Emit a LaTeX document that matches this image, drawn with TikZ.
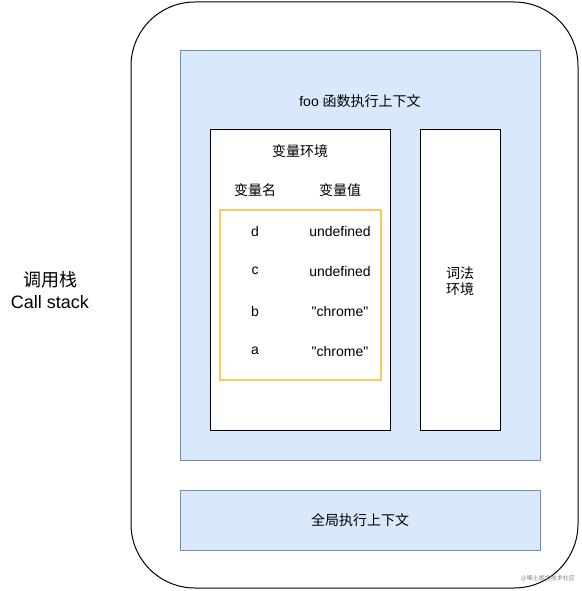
\documentclass[tikz,border=0pt]{standalone}
\usepackage{fontspec}
\setmainfont{Liberation Sans}
\newfontfamily\cjk{Noto Sans CJK SC}
\usepackage{tikz}
\usetikzlibrary{positioning}

\begin{document}
\begin{tikzpicture}[x=0.75pt,y=-0.75pt,
    box/.style={draw,line width=0.75pt,inner sep=0pt},
    ctxbox/.style={draw={rgb,255:red,108;green,142;blue,191},fill={rgb,255:red,218;green,232;blue,252},line width=0.6pt,inner sep=0pt},
    txt/.style={font=\fontsize{10.5}{12}\selectfont,inner sep=0pt,align=center}]
                    \useasboundingbox (0,0) rectangle (581,591);
                    % call stack frame
                    \node[box,rounded corners=48pt,minimum width=335.25pt,minimum height=439.5pt] (stack) at (354.5,295) {};
                    \node[txt,font=\fontsize{13.5}{16}\selectfont] (stacklabel) at (50,290) {{\cjk 调用栈}\\Call stack};
                    % foo context
                    \node[ctxbox,minimum width=270pt,minimum height=307.5pt] (foo) at (360,255) {};
                    \node[txt] (footitle) at (360,101) {foo {\cjk 函数执行上下文}};
                    \node[box,fill=white,minimum width=135pt,minimum height=225pt] (varenv) at (300,280) {};
                    \node[txt] (varenvtitle) at (300,151) {\cjk 变量环境};
                    \node[txt] (namehead) at (255,190) {\cjk 变量名};
                    \node[txt] (valuehead) at (340,190) {\cjk 变量值};
                    \node[draw={rgb,255:red,255;green,200;blue,90},line width=1.2pt,inner sep=0pt,minimum width=120.75pt,minimum height=127.5pt] (vars) at (300.5,295) {};
                    \node[txt] (nd) at (255,231) {d};
                    \node[txt] (vd) at (340,231) {undefined};
                    \node[txt] (nc) at (255,271) {c};
                    \node[txt] (vc) at (340,271) {undefined};
                    \node[txt] (nb) at (255,311) {b};
                    \node[txt] (vb) at (340,311) {\textquotedbl chrome\textquotedbl};
                    \node[txt] (na) at (255,351) {a};
                    \node[txt] (va) at (340,351) {\textquotedbl chrome\textquotedbl};
                    \node[box,fill=white,minimum width=60pt,minimum height=225pt] (lexenv) at (460,280) {};
                    \node[txt] (lexlabel) at (460,281) {{\cjk 词法}\\{\cjk 环境}};
                    % global context
                    \node[ctxbox,minimum width=270pt,minimum height=45pt] (global) at (360,520) {};
                    \node[txt] (globallabel) at (360,520) {\cjk 全局执行上下文};
                    \node[txt,font=\fontsize{4.5}{5}\selectfont,text=gray] (mark) at (548,578) {\cjk @稀土掘金技术社区};
                  \end{tikzpicture}
\end{document}
